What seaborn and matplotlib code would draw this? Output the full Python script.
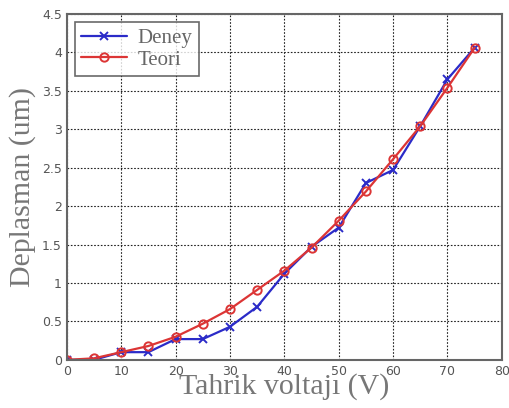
import matplotlib
matplotlib.use("Agg")
import matplotlib.pyplot as plt
import numpy as np
import pandas as pd
import seaborn as sns

voltage = [0, 5, 10, 15, 20, 25, 30, 35, 40, 45, 50, 55, 60, 65, 70, 75]
deney = [0, 0, 0.1, 0.1, 0.27, 0.27, 0.43, 0.69, 1.12, 1.47, 1.72, 2.30, 2.47, 3.04, 3.65, 4.06]
teori = [0, 0.02, 0.1, 0.18, 0.30, 0.47, 0.66, 0.91, 1.16, 1.46, 1.81, 2.19, 2.61, 3.04, 3.54, 4.06]

sns.set_style("white")
plt.rcParams["font.family"] = ["Liberation Serif", "DejaVu Serif"]

fig = plt.figure(figsize=(5.1, 4.08), dpi=100)
ax = fig.add_axes([0.131, 0.118, 0.853, 0.848])

sns.lineplot(x=voltage, y=deney, color="#2b2bc8", marker="x", label="Deney", ax=ax,
             linewidth=1.6, markersize=6, markeredgewidth=1.4, markeredgecolor="#2b2bc8")
sns.lineplot(x=voltage, y=teori, color="#dc3535", marker="o", label="Teori", ax=ax,
             linewidth=1.6, markersize=6, markeredgewidth=1.4, markeredgecolor="#dc3535",
             markerfacecolor="none")

ax.set_xlim(0, 80)
ax.set_ylim(0, 4.5)
ax.set_xticks(np.arange(0, 81, 10))
ax.set_yticks(np.arange(0, 4.51, 0.5))
ax.set_yticklabels(["0", "0.5", "1", "1.5", "2", "2.5", "3", "3.5", "4", "4.5"])
ax.grid(True, color="#222222", linestyle=(0, (1.5, 1.5)), linewidth=0.8)
ax.tick_params(axis="both", labelsize=9, colors="#555555", direction="in", length=4,
               labelfontfamily="DejaVu Sans")
for s in ax.spines.values():
    s.set_color("#666666")
    s.set_linewidth(1.5)

ax.set_xlabel("Tahrik voltajı (V)", fontsize=21.5, color="#777777", labelpad=-3)
ax.set_ylabel("Deplasman (um)", fontsize=21.5, color="#777777", labelpad=4)

leg = ax.legend(loc="upper left", fontsize=15, frameon=True, fancybox=False,
                borderaxespad=0.4, handlelength=2.2, labelspacing=0.1,
                borderpad=0.3, handletextpad=0.5)
leg.get_frame().set_edgecolor("#444444")
leg.get_frame().set_linewidth(1.2)
for t in leg.get_texts():
    t.set_color("#666666")

fig.savefig("out.png", dpi=100)
